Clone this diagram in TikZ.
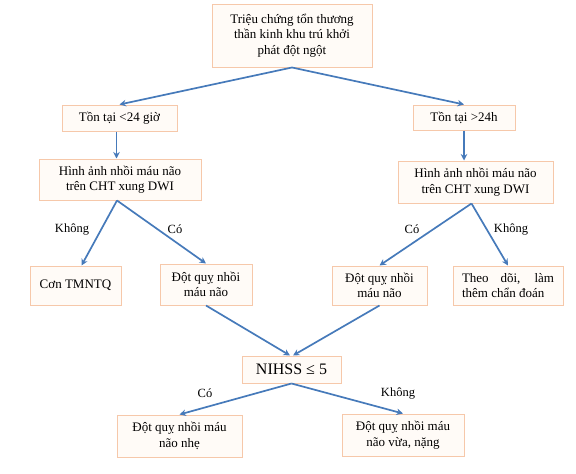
\documentclass[tikz,border=0pt]{standalone}
\usepackage{fontspec}
\setmainfont{Liberation Serif}
\usetikzlibrary{arrows.meta}
\definecolor{boxline}{RGB}{246,200,170}
\definecolor{boxfill}{RGB}{255,251,247}
\definecolor{flow}{RGB}{70,122,186}

\begin{document}
\begin{tikzpicture}[x=1pt, y=1pt,
    box/.style={rectangle, draw=boxline, fill=boxfill, line width=1pt, align=center, inner sep=2pt, font=\fontsize{13}{15.5}\selectfont},
    arrow/.style={-{Stealth[length=6.5pt, width=6.5pt]}, draw=flow, line width=1.7pt},
    lbl/.style={font=\fontsize{12.5}{14}\selectfont, inner sep=1pt}
]
\useasboundingbox (0,0) rectangle (576,-474);

% Boxes
\node[box, minimum width=160, minimum height=63] (sym) at (292,-35.5) {Triệu chứng tổn thương\\thần kinh khu trú khởi\\phát đột ngột};
\node[box, minimum width=115, minimum height=26] (lt) at (119.5,-118) {Tồn tại <24 giờ};
\node[box, minimum width=102, minimum height=25] (gt) at (464,-117.5) {Tồn tại >24h};
\node[box, minimum width=162, minimum height=41] (dwil) at (120,-179.5) {Hình ảnh nhồi máu não\\trên CHT xung DWI};
\node[box, minimum width=155, minimum height=42] (dwir) at (475.5,-182) {Hình ảnh nhồi máu não\\trên CHT xung DWI};
\node[box, minimum width=91, minimum height=39] (tmn) at (75.5,-285.5) {Cơn TMNTQ};
\node[box, minimum width=92, minimum height=41] (strokel) at (206,-284.5) {Đột quỵ nhồi\\máu não};
\node[box, minimum width=95, minimum height=39] (stroker) at (379.5,-285.5) {Đột quỵ nhồi\\máu não};
\node[box, minimum width=110, minimum height=39, text width=92, align=justify] (follow) at (508,-285.5) {\parfillskip=0pt Theo dõi, làm\linebreak thêm chẩn đoán};
\node[box, minimum width=99, minimum height=27, font=\fontsize{16}{18}\selectfont] (nihss) at (291.5,-369.5) {NIHSS ≤ 5};
\node[box, minimum width=125, minimum height=42] (mild) at (179.5,-436) {Đột quỵ nhồi máu\\não nhẹ};
\node[box, minimum width=122, minimum height=42] (severe) at (403,-435) {Đột quỵ nhồi máu\\não vừa, nặng};

% Connectors
\draw[arrow] (sym.south) -- (lt.north);
\draw[arrow] (sym.south) -- (gt.north);
\draw[arrow] ([xshift=-3pt]lt.south) -- ([xshift=-3pt]lt.south |- dwil.north);
\draw[arrow] (gt.south) -- (gt.south |- dwir.north);
\draw[arrow] ([xshift=-3pt]dwil.south) -- ([xshift=6pt]tmn.north);
\draw[arrow] ([xshift=-3pt]dwil.south) -- (strokel.north);
\draw[arrow] ([xshift=-4pt]dwir.south) -- (stroker.north);
\draw[arrow] ([xshift=-4pt]dwir.south) -- (follow.north);
\draw[arrow] (strokel.south) -- ([xshift=-1.5pt]nihss.north);
\draw[arrow] (stroker.south) -- ([xshift=1.5pt]nihss.north);
\draw[arrow] (nihss.south) -- (mild.north);
\draw[arrow] (nihss.south) -- (severe.north);

% Labels
\node[lbl] (nol) at (72,-229) {Không};
\node[lbl] (yesl) at (175,-229) {Có};
\node[lbl] (yesr) at (412,-229) {Có};
\node[lbl] (nor) at (511,-229) {Không};
\node[lbl] (yesn) at (205,-393) {Có};
\node[lbl] (non) at (398,-393) {Không};

\end{tikzpicture}
\end{document}
